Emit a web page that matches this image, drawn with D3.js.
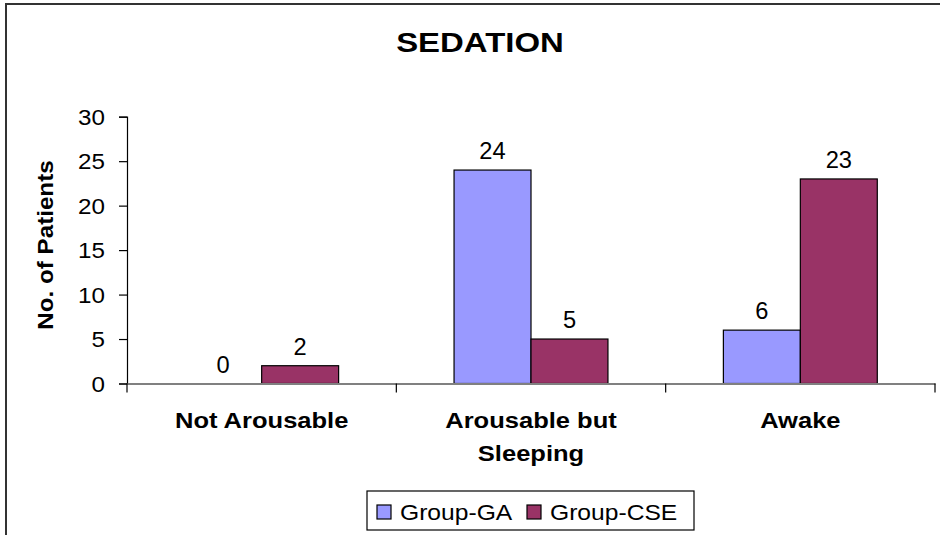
<!DOCTYPE html>
<html>
<head>
<meta charset="utf-8">
<script src="https://cdn.jsdelivr.net/npm/d3@7"></script>
<style>
  html, body { margin: 0; padding: 0; background: #fff; }
  svg { display: block; font-family: "Liberation Sans", Arial, sans-serif; }
</style>
</head>
<body>
<svg id="chart" width="940" height="535"></svg>
<script>
const title = "SEDATION";
const yAxisTitle = "No. of Patients";
const categories = [["Not Arousable"], ["Arousable but", "Sleeping"], ["Awake"]];
const seriesNames = ["Group-GA", "Group-CSE"];
const groupGA = [0, 24, 6];
const groupCSE = [2, 5, 23];
const yTicks = [0, 5, 10, 15, 20, 25, 30];
const colors = ["#9999FF", "#993366"];

const svg = d3.select("#chart");
const W = 940, H = 535;
const plot = { left: 127, right: 935, top: 116.7, bottom: 383.5 };

// outer chart border (top and left visible, rest clipped)
svg.append("path")
  .attr("d", `M6,${H + 5} L6,4 L${W + 5},4`)
  .attr("fill", "none").attr("stroke", "#333").attr("stroke-width", 2);

function stretchedText(g, x, y, txt, sx, opts) {
  return g.append("text")
    .attr("transform", `translate(${x},${y}) scale(${sx},1)`)
    .attr("text-anchor", opts.anchor || "middle")
    .attr("font-size", opts.size)
    .attr("font-weight", opts.weight || "normal")
    .attr("fill", "#000")
    .text(txt);
}

// title
stretchedText(svg, 480, 52, title, 1.22, { size: 27, weight: "bold" });

const x0 = d3.scaleBand().domain(d3.range(categories.length))
  .range([plot.left, plot.right]).paddingInner(0).paddingOuter(0);
const barW = x0.bandwidth() / 3.5;
const x1 = d3.scaleBand().domain([0, 1])
  .range([x0.bandwidth() / 2 - barW, x0.bandwidth() / 2 + barW]).padding(0);
const y = d3.scaleLinear().domain([0, 30]).range([plot.bottom, plot.top]);

// bars
const series = [groupGA, groupCSE];
series.forEach((vals, si) => {
  svg.append("g").selectAll("rect").data(vals).join("rect")
    .attr("x", (d, i) => x0(i) + x1(si))
    .attr("y", d => y(d))
    .attr("width", x1.bandwidth())
    .attr("height", d => y(0) - y(d))
    .attr("fill", colors[si])
    .attr("stroke", "#000").attr("stroke-width", 1.2);
  vals.forEach((v, i) => {
    stretchedText(svg, x0(i) + x1(si) + x1.bandwidth() / 2, y(v) - 11, String(v), 1.03, { size: 23 });
  });
});

// y axis
const yAxis = d3.axisLeft(y).tickValues(yTicks).tickSize(8).tickPadding(0).tickFormat(() => "");
const gy = svg.append("g").attr("transform", `translate(${plot.left},0)`).call(yAxis);
gy.select(".domain").attr("stroke", "#000").attr("stroke-width", 1.2);
gy.selectAll(".tick line").attr("stroke", "#000").attr("stroke-width", 1.2);
yTicks.forEach(t => {
  stretchedText(svg, 105, y(t) + 8, String(t), 1.1, { size: 22, anchor: "end" });
});

// x axis
const xAxis = d3.axisBottom(x0).tickSize(0).tickFormat(() => "");
const gx = svg.append("g").attr("transform", `translate(0,${plot.bottom})`).call(xAxis);
gx.select(".domain").attr("stroke", "#808080").attr("stroke-width", 2);
gx.selectAll(".tick").remove();
// category separator ticks
const sepTicks = d3.range(categories.length + 1).map(i => plot.left + i * x0.bandwidth());
svg.append("g").selectAll("line").data(sepTicks).join("line")
  .attr("x1", d => d).attr("x2", d => d)
  .attr("y1", plot.bottom).attr("y2", plot.bottom + 9)
  .attr("stroke", "#000").attr("stroke-width", 1.2);

// category labels
categories.forEach((lines, i) => {
  lines.forEach((ln, j) => {
    stretchedText(svg, x0(i) + x0.bandwidth() / 2, 428 + j * 33, ln, 1.16, { size: 22, weight: "bold" });
  });
});

// y axis title
svg.append("text")
  .attr("transform", `translate(53,245) rotate(-90) scale(1.1,1)`)
  .attr("text-anchor", "middle")
  .attr("font-size", 22).attr("font-weight", "bold")
  .text(yAxisTitle);

// legend
const lg = svg.append("g");
lg.append("rect").attr("x", 367).attr("y", 491).attr("width", 327).attr("height", 39)
  .attr("fill", "#fff").attr("stroke", "#000").attr("stroke-width", 1.2);
const legX = [377, 527];
seriesNames.forEach((name, i) => {
  lg.append("rect").attr("x", legX[i]).attr("y", 505).attr("width", 14).attr("height", 14)
    .attr("fill", colors[i]).attr("stroke", "#000").attr("stroke-width", 1.2);
  stretchedText(lg, legX[i] + 23, 520, name, 1.12, { size: 22, anchor: "start" });
});
</script>
</body>
</html>
